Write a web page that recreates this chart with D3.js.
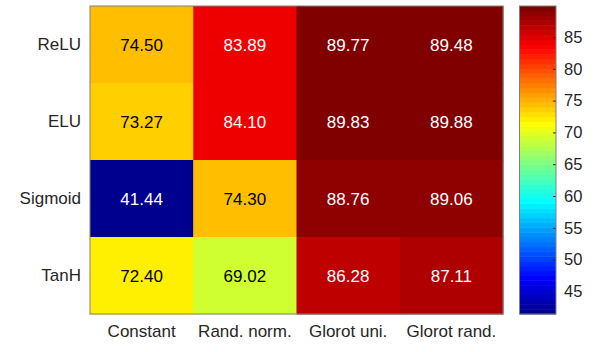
<!DOCTYPE html>
<html>
<head>
<meta charset="utf-8">
<script src="https://cdn.jsdelivr.net/npm/d3@7"></script>
<style>
  body { margin: 0; background: #fff; }
  text { font-family: "Liberation Sans", Arial, sans-serif; }
</style>
</head>
<body>
<svg id="chart" width="598" height="352"></svg>
<script>
var rowLabels = ["ReLU", "ELU", "Sigmoid", "TanH"];
var colLabels = ["Constant", "Rand. norm.", "Glorot uni.", "Glorot rand."];
var reluVals = [74.50, 83.89, 89.77, 89.48];
var eluVals = [73.27, 84.10, 89.83, 89.88];
var sigmoidVals = [41.44, 74.30, 88.76, 89.06];
var tanhVals = [72.40, 69.02, 86.28, 87.11];
var colorTicks = [45, 50, 55, 60, 65, 70, 75, 80, 85];

var rows = [reluVals, eluVals, sigmoidVals, tanhVals];

// matlab style jet(64)
var m = 64, n = 16;
var u = [];
for (var k = 1; k <= n; k++) u.push(k / n);
for (var k = 1; k < n; k++) u.push(1);
for (var k = n; k >= 1; k--) u.push(k / n);
var jet = [];
for (var i = 0; i < m; i++) jet.push([0, 0, 0]);
u.forEach(function (v, k) {
    var gi = 8 + k, ri = gi + n, bi = gi - n;   // zero based
    if (gi < m) jet[gi][1] = v;
    if (ri < m) jet[ri][0] = v;
    if (bi >= 0) jet[bi][2] = v;
});

var cells = [];
rows.forEach(function (r, ri) {
    r.forEach(function (v, ci) {
        cells.push({ row: rowLabels[ri], col: colLabels[ci], value: v });
    });
});
var cmin = d3.min(cells, function (d) { return d.value; });
var cmax = d3.max(cells, function (d) { return d.value; });

function colorIdx(v) {
    var idx = Math.floor((v - cmin) / (cmax - cmin) * m);
    return Math.max(0, Math.min(m - 1, idx));
}
function colorOf(v) {
    var c = jet[colorIdx(v)];
    return d3.rgb(c[0] * 255, c[1] * 255, c[2] * 255);
}

var svg = d3.select("#chart");
var mLeft = 90, mRight = 503, mTop = 6, mBottom = 314;

var x = d3.scaleBand().domain(colLabels).range([mLeft, mRight]);
var y = d3.scaleBand().domain(rowLabels).range([mTop, mBottom]);

svg.append("g").selectAll("rect")
    .data(cells)
    .enter().append("rect")
    .attr("x", function (d) { return x(d.col); })
    .attr("y", function (d) { return y(d.row); })
    .attr("width", x.bandwidth() + 0.5)
    .attr("height", y.bandwidth() + 0.5)
    .attr("fill", function (d) { return colorOf(d.value); });

svg.append("g").selectAll("text")
    .data(cells)
    .enter().append("text")
    .attr("x", function (d) { return x(d.col) + x.bandwidth() / 2; })
    .attr("y", function (d) { return y(d.row) + y.bandwidth() / 2; })
    .attr("dy", "0.36em")
    .attr("text-anchor", "middle")
    .attr("font-size", 17)
    .attr("fill", function (d) {
        var c = colorOf(d.value);
        var lum = 0.299 * c.r + 0.587 * c.g + 0.114 * c.b;
        return lum > 120 ? "#000" : "#fff";
    })
    .text(function (d) { return d.value.toFixed(2); });

svg.append("rect")
    .attr("x", mLeft).attr("y", mTop)
    .attr("width", mRight - mLeft).attr("height", mBottom - mTop)
    .attr("fill", "none").attr("stroke", "#808080").attr("stroke-width", 1);

// axis labels
var yAxis = svg.append("g")
    .attr("transform", "translate(" + mLeft + ",0)")
    .call(d3.axisLeft(y).tickSize(0).tickPadding(9));
var xAxis = svg.append("g")
    .attr("transform", "translate(0," + mBottom + ")")
    .call(d3.axisBottom(x).tickSize(0).tickPadding(11));
[yAxis, xAxis].forEach(function (a) {
    a.select(".domain").remove();
    a.selectAll("text")
        .attr("font-size", 17)
        .attr("font-family", "Liberation Sans, Arial, sans-serif")
        .attr("fill", "#262626");
});

// colorbar
var cbLeft = 519.5, cbRight = 556;
var cy = d3.scaleLinear().domain([cmin, cmax]).range([mBottom, mTop]);
var bands = d3.range(m);
svg.append("g").selectAll("rect")
    .data(bands)
    .enter().append("rect")
    .attr("x", cbLeft)
    .attr("width", cbRight - cbLeft)
    .attr("y", function (i) { return cy(cmin + (i + 1) * (cmax - cmin) / m); })
    .attr("height", function (i) { return cy(cmin + i * (cmax - cmin) / m) - cy(cmin + (i + 1) * (cmax - cmin) / m) + 0.5; })
    .attr("fill", function (i) { var c = jet[i]; return d3.rgb(c[0] * 255, c[1] * 255, c[2] * 255); });

var cAxis = svg.append("g")
    .attr("transform", "translate(" + cbRight + ",0)")
    .call(d3.axisRight(cy).tickValues(colorTicks).tickSize(-3).tickPadding(8));
cAxis.select(".domain").remove();
cAxis.selectAll("line").attr("stroke", "#262626");
cAxis.selectAll("text")
    .attr("font-size", 16.5)
    .attr("font-family", "Liberation Sans, Arial, sans-serif")
    .attr("fill", "#262626");

svg.append("rect")
    .attr("x", cbLeft).attr("y", mTop)
    .attr("width", cbRight - cbLeft).attr("height", mBottom - mTop)
    .attr("fill", "none").attr("stroke", "#808080").attr("stroke-width", 1);
</script>
</body>
</html>
